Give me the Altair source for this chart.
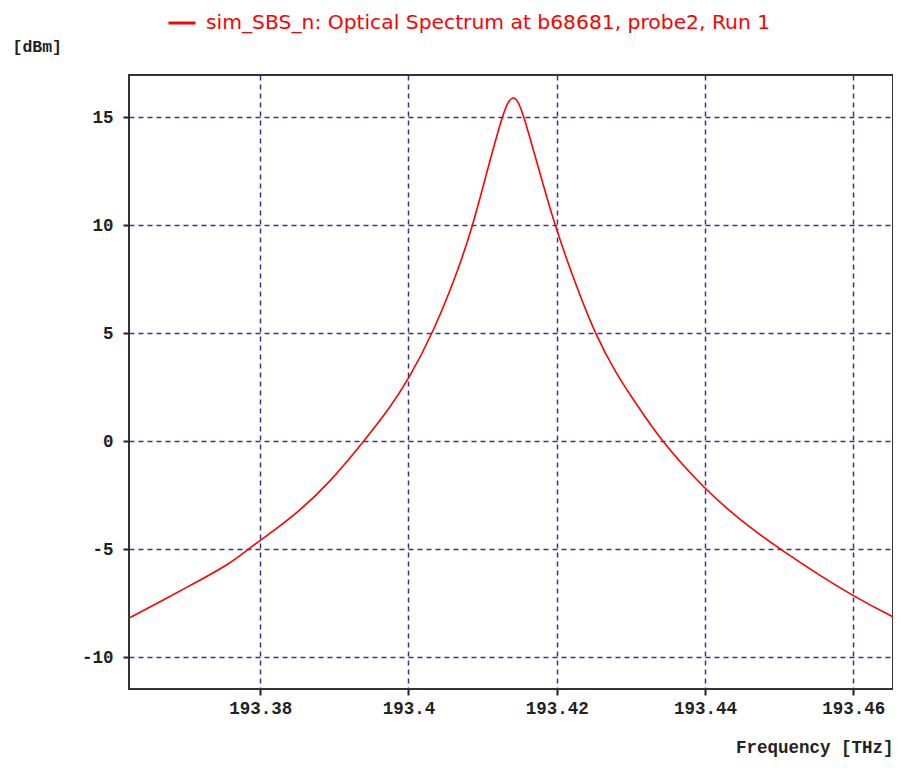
import altair as alt
import pandas as pd

series_name = "sim_SBS_n: Optical Spectrum at b68681, probe2, Run 1"

freq_thz = [193.3623, 193.3667, 193.3713, 193.3758, 193.3784, 193.3800, 193.3848,
            193.3893, 193.3940, 193.3974, 193.4000, 193.4033, 193.4066, 193.4087,
            193.4103, 193.4126, 193.4134, 193.4141, 193.4148, 193.4156, 193.4170,
            193.4197, 193.4224, 193.4251, 193.4282, 193.4305, 193.4341, 193.4400,
            193.4449, 193.4502, 193.4599, 193.4662]
power_dbm = [-8.2, -7.4, -6.55, -5.7, -5.0, -4.6, -3.4,
             -1.95, 0.0, 1.5, 2.85, 5.0, 7.8, 10.0,
             12.1, 15.0, 15.7, 15.96, 15.75, 15.0, 13.3,
             10.0, 7.4, 5.0, 3.0, 1.85, 0.0, -2.25,
             -3.7, -5.04, -7.2, -8.28]

x_ticks = [193.38, 193.40, 193.42, 193.44, 193.46]
y_ticks = [-10, -5, 0, 5, 10, 15]

df = pd.DataFrame({"freq": freq_thz, "power": power_dbm, "series": series_name})

mono = "Liberation Mono"
grid_color = "#34348c"
fs = 17.5

chart = alt.Chart(df).mark_line(strokeWidth=1.6, interpolate="basis", clip=True).encode(
    x=alt.X(
        "freq:Q",
        scale=alt.Scale(domain=[193.3623, 193.46537], nice=False, zero=False),
        axis=alt.Axis(
            values=x_ticks, format=".2~f", title="Frequency [THz]",
            titleX=764, titleY=58, titleAlign="right", titleBaseline="middle",
            titleFont=mono, titleFontSize=fs, titleFontWeight="bold", titleColor="#222",
            labelFont=mono, labelFontSize=fs, labelFontWeight="bold", labelColor="#222",
            labelPadding=4, tickSize=6, tickWidth=2, tickColor="#222",
            domain=False, grid=True, gridColor=grid_color, gridDash=[5, 4], gridWidth=1.5,
        ),
    ),
    y=alt.Y(
        "power:Q",
        scale=alt.Scale(domain=[-11.48, 16.95], nice=False, zero=False),
        axis=alt.Axis(
            values=y_ticks, title="[dBm]",
            labelExpr="datum.value < 0 ? '-' + abs(datum.value) : '' + datum.value",
            titleX=-117, titleY=-29, titleAngle=0, titleAlign="left", titleBaseline="middle",
            titleFont=mono, titleFontSize=16.5, titleFontWeight="bold", titleColor="#222",
            labelFont=mono, labelFontSize=fs, labelFontWeight="bold", labelColor="#222",
            labelPadding=10, tickSize=6, tickWidth=2, tickColor="#222",
            domain=False, grid=True, gridColor=grid_color, gridDash=[5, 4], gridWidth=1.5,
        ),
    ),
    color=alt.Color(
        "series:N",
        scale=alt.Scale(range=["#ff0000"]),
        legend=alt.Legend(
            title=None, orient="none", legendX=38, legendY=-67,
            symbolType="stroke", symbolStrokeWidth=3, symbolSize=729,
            labelFont="DejaVu Sans", labelFontSize=20.3, labelColor="#ff0000",
            labelLimit=1000, labelOffset=9, padding=0,
        ),
    ),
).properties(
    width=764,
    height=614,
    padding={"left": 121, "top": 67, "right": 0, "bottom": 69},
    autosize="none",
    background="white",
).configure_view(
    stroke="#333333", strokeWidth=2
)

chart.save("out.html", embed_options={"renderer": "svg", "actions": False})
